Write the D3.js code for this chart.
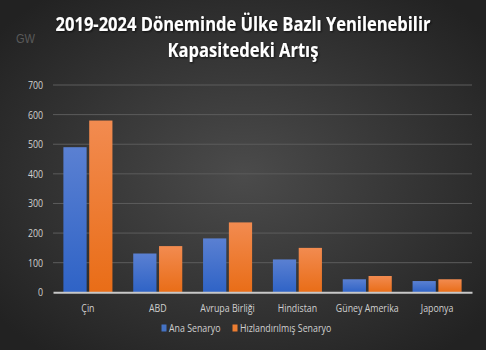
<!DOCTYPE html>
<html><head><meta charset="utf-8">
<script src="https://cdn.jsdelivr.net/npm/d3@7"></script>
<style>body{margin:0;background:#2a2a2a;}svg{display:block;}</style>
</head><body>
<script>
const categories = ["Çin","ABD","Avrupa Birliği","Hindistan","Güney Amerika","Japonya"];
const anaSenaryo = [490,131,182,111,44,38];
const hizliSenaryo = [580,156,236,150,55,44];
const seriesNames = ["Ana Senaryo","Hızlandırılmış Senaryo"];
const yTicks = [0,100,200,300,400,500,600,700];
const titleLines = ["2019-2024 Döneminde Ülke Bazlı Yenilenebilir","Kapasitedeki Artış"];
const unitLabel = "GW";

const W=486,H=350;
const svg=d3.select("body").append("svg").attr("width",W).attr("height",H);
const defs=svg.append("defs");
const rg=defs.append("radialGradient").attr("id","bg").attr("cx","50%").attr("cy","50%").attr("r","65%");
rg.append("stop").attr("offset","0%").attr("stop-color","#4b4b4b");
rg.append("stop").attr("offset","100%").attr("stop-color","#222");
const gb=defs.append("linearGradient").attr("id","gBlue").attr("x1",0).attr("x2",0).attr("y1",0).attr("y2",1);
gb.append("stop").attr("offset","0%").attr("stop-color","#5a80d2");
gb.append("stop").attr("offset","100%").attr("stop-color","#2f63c6");
const go=defs.append("linearGradient").attr("id","gOrange").attr("x1",0).attr("x2",0).attr("y1",0).attr("y2",1);
go.append("stop").attr("offset","0%").attr("stop-color","#f28b50");
go.append("stop").attr("offset","100%").attr("stop-color","#e96d17");
const fs=defs.append("filter").attr("id","sh").attr("filterUnits","userSpaceOnUse")
  .attr("x",0).attr("y",0).attr("width",W).attr("height",80);
fs.append("feDropShadow").attr("dx",1).attr("dy",1).attr("stdDeviation",1).attr("flood-color","#000").attr("flood-opacity",0.7);

svg.append("rect").attr("width",W).attr("height",H).attr("fill","url(#bg)");

const m={l:53,r:472,t:85,b:292.3};
const x0=d3.scaleBand().domain(categories).range([m.l,m.r]).paddingInner(0).paddingOuter(0);
const x1=d3.scaleBand().domain([0,1]).range([10.4,x0.bandwidth()-10.4]).paddingInner(0.1);
const y=d3.scaleLinear().domain([0,700]).range([m.b,m.t]);

const font="'Open Sans',sans-serif";
function condense(sel,k){
  sel.each(function(){
    const n=this.getComputedTextLength();
    d3.select(this).attr("textLength",n*k).attr("lengthAdjust","spacingAndGlyphs");
  });
}

// grid
svg.append("g").selectAll("line").data(yTicks.filter(d=>d>0)).join("line")
  .attr("x1",m.l).attr("x2",m.r).attr("y1",d=>y(d)).attr("y2",d=>y(d))
  .attr("stroke","#5c5c5c").attr("stroke-width",1);

// y axis
const ya=svg.append("g").attr("transform",`translate(${m.l},0)`)
  .call(d3.axisLeft(y).tickValues(yTicks).tickSize(0).tickPadding(10));
ya.select(".domain").remove();
ya.selectAll("text").attr("fill","#d0d0d0").style("font-family",font).style("font-size","11px");
condense(ya.selectAll("text"),0.8);

// bars
const data=categories.map((c,i)=>({c,v:[anaSenaryo[i],hizliSenaryo[i]]}));
const g=svg.append("g").selectAll("g").data(data).join("g").attr("transform",d=>`translate(${x0(d.c)},0)`);
g.selectAll("rect").data(d=>d.v.map((v,k)=>({v,k}))).join("rect")
  .attr("x",d=>x1(d.k)).attr("width",x1.bandwidth())
  .attr("y",d=>y(d.v)).attr("height",d=>y(0)-y(d.v))
  .attr("fill",d=>d.k===0?"url(#gBlue)":"url(#gOrange)");

// x axis
const xa=svg.append("g").attr("transform",`translate(0,${m.b})`)
  .call(d3.axisBottom(x0).tickSize(0).tickPadding(12));
xa.select(".domain").attr("stroke","#c8c8c8").attr("stroke-width",2);
xa.selectAll("text").attr("fill","#d0d0d0").style("font-family",font).style("font-size","11px");
condense(xa.selectAll("text"),0.8);

// title
const tt=svg.append("g").selectAll("text").data(titleLines).join("text")
  .attr("x",243).attr("y",(d,i)=>31+i*26).attr("text-anchor","middle")
  .attr("fill","#fff").attr("font-weight","bold").attr("filter","url(#sh)")
  .style("font-family",font).style("font-size","19px").text(d=>d);
condense(tt,0.87);

const gw=svg.append("text").attr("x",16).attr("y",43).attr("fill","#5a5a5a")
  .style("font-family","'Liberation Sans',sans-serif").style("font-size","13px").text(unitLabel);
condense(gw,0.85);

// legend
const legX=[161.5,232.5];
const lg=svg.append("g").selectAll("g").data(seriesNames).join("g")
  .attr("transform",(d,i)=>`translate(${legX[i]},324.5)`);
lg.append("rect").attr("width",5).attr("height",7).attr("fill",(d,i)=>i===0?"#4472c4":"#ed7d31");
const lt=lg.append("text").attr("x",7.5).attr("y",7.5).attr("fill","#d0d0d0")
  .style("font-family",font).style("font-size","11px").text(d=>d);
condense(lt,0.8);
</script>
</body></html>
